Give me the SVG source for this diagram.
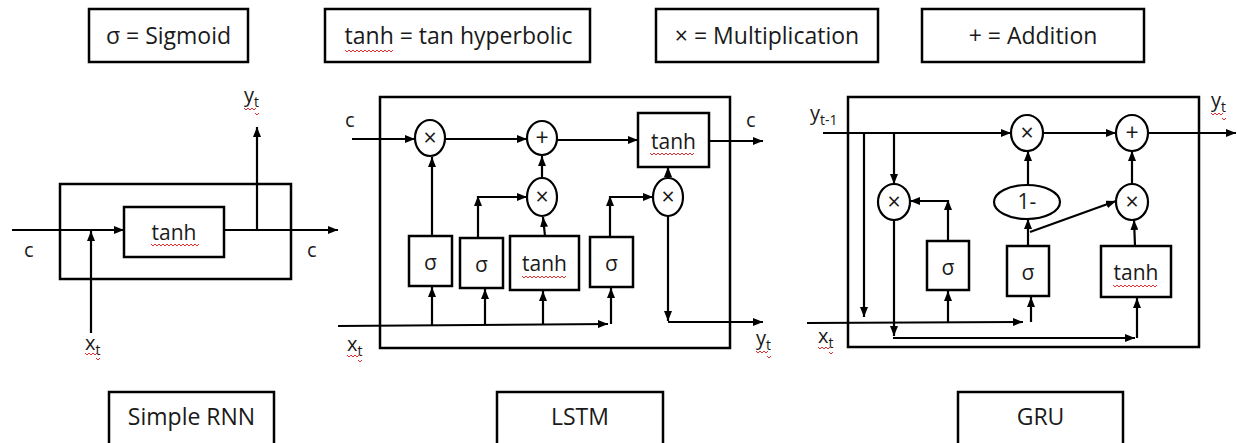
<svg xmlns="http://www.w3.org/2000/svg" width="1237" height="443" viewBox="0 0 1237 443">
<defs>
<marker id="ah" viewBox="0 0 10 8" refX="10" refY="4" markerWidth="10" markerHeight="8" markerUnits="userSpaceOnUse" orient="auto">
<path d="M0,0 L10,4 L0,8 z" fill="#000"/>
</marker>
</defs>
<style>
.box{fill:#fff;stroke:#000;stroke-width:2.5}
.op{fill:#fff;stroke:#000;stroke-width:2.2}
.ln{fill:none;stroke:#000;stroke-width:2.2;marker-end:url(#ah)}
.t{font-family:"Open Sans","Liberation Sans",sans-serif;fill:#1a1a1a}
.lg{font-size:23px;text-anchor:middle}
.nd{font-size:21px;text-anchor:middle}
.sym{font-size:23px;text-anchor:middle}
.lb{font-size:20px}
.sub{font-size:14px}
.sq{fill:none;stroke:#e03030;stroke-width:1}
</style>
<rect width="1237" height="443" fill="#fff"/>

<g id="legend-sigmoid"><rect class="box" x="89" y="9" width="159" height="53"/><text class="t lg" x="168.5" y="44">σ = Sigmoid</text></g>
<g id="legend-tanh"><rect class="box" x="325" y="9" width="265" height="53"/><text class="t lg" x="458.5" y="44">tanh = tan hyperbolic</text><path class="sq" d="M345,50 l2,2 l2,-2 l2,2 l2,-2 l2,2 l2,-2 l2,2 l2,-2 l2,2 l2,-2 l2,2 l2,-2 l2,2 l2,-2 l2,2 l2,-2 l2,2 l2,-2 l2,2 l2,-2 l2,2 l2,-2 l2,2 l2,-2"/></g>
<g id="legend-mult"><rect class="box" x="656" y="9" width="222" height="53"/><text class="t lg" x="767" y="44">× = Multiplication</text></g>
<g id="legend-add"><rect class="box" x="922" y="9" width="222" height="53"/><text class="t lg" x="1033" y="44">+ = Addition</text></g>

<g id="title-rnn"><rect class="box" x="109" y="392" width="165" height="60"/><text class="t lg" x="191.5" y="425">Simple RNN</text></g>
<g id="title-lstm"><rect class="box" x="497" y="392" width="166" height="60"/><text class="t lg" x="580" y="425">LSTM</text></g>
<g id="title-gru"><rect class="box" x="958" y="392" width="165" height="60"/><text class="t lg" x="1040.5" y="425">GRU</text></g>

<!-- Simple RNN -->
<g id="rnn-cell"><rect class="box" x="60" y="184" width="231" height="95"/></g>
<g id="rnn-tanh"><rect class="box" x="124" y="207" width="100" height="50"/><text class="t nd" x="174" y="240">tanh</text><path class="sq" d="M151,244 l2,2 l2,-2 l2,2 l2,-2 l2,2 l2,-2 l2,2 l2,-2 l2,2 l2,-2 l2,2 l2,-2 l2,2 l2,-2 l2,2 l2,-2 l2,2 l2,-2 l2,2 l2,-2 l2,2 l2,-2 l2,2 l2,-2"/></g>
<g id="rnn-labels">
<text class="t lb" x="24" y="257">c</text>
<text class="t lb" x="307" y="257">c</text>
<text class="t lb" x="244" y="102">y<tspan class="sub" dy="5">t</tspan></text>
<path class="sq" d="M244,108 l2,2 l2,-2 l2,2 l2,-2 l2,2 l2,-2 M255,113 l2,2 l2,-2"/>
<text class="t lb" x="85" y="350">x<tspan class="sub" dy="5">t</tspan></text>
<path class="sq" d="M85,353 l2,2 l2,-2 l2,2 l2,-2 l2,2 l2,-2 M96,358 l2,2 l2,-2"/>
</g>

<!-- LSTM -->
<g id="lstm-cell"><rect class="box" x="380" y="97" width="350" height="251"/></g>
<g id="lstm-mul1"><ellipse class="op" cx="430" cy="138" rx="15" ry="18"/><text class="t sym" x="430" y="146">×</text></g>
<g id="lstm-add"><ellipse class="op" cx="542" cy="138" rx="15" ry="17"/><text class="t sym" x="542" y="146">+</text></g>
<g id="lstm-tanh-out"><rect class="box" x="638" y="113" width="71" height="54"/><text class="t nd" x="673.5" y="149">tanh</text><path class="sq" d="M650,153 l2,2 l2,-2 l2,2 l2,-2 l2,2 l2,-2 l2,2 l2,-2 l2,2 l2,-2 l2,2 l2,-2 l2,2 l2,-2 l2,2 l2,-2 l2,2 l2,-2 l2,2 l2,-2 l2,2 l2,-2"/></g>
<g id="lstm-mul2"><ellipse class="op" cx="542" cy="197" rx="15" ry="19"/><text class="t sym" x="542" y="205">×</text></g>
<g id="lstm-mul3"><ellipse class="op" cx="668" cy="197" rx="15" ry="19"/><text class="t sym" x="668" y="205">×</text></g>
<g id="lstm-sig1"><rect class="box" x="409" y="236" width="43" height="50"/><text class="t nd" x="430.5" y="270">σ</text></g>
<g id="lstm-sig2"><rect class="box" x="460" y="238" width="43" height="50"/><text class="t nd" x="481.5" y="272">σ</text></g>
<g id="lstm-tanh-mid"><rect class="box" x="510" y="236" width="69" height="54"/><text class="t nd" x="544.5" y="271">tanh</text><path class="sq" d="M522,276 l2,2 l2,-2 l2,2 l2,-2 l2,2 l2,-2 l2,2 l2,-2 l2,2 l2,-2 l2,2 l2,-2 l2,2 l2,-2 l2,2 l2,-2 l2,2 l2,-2 l2,2 l2,-2 l2,2 l2,-2"/></g>
<g id="lstm-sig3"><rect class="box" x="590" y="237" width="43" height="50"/><text class="t nd" x="611.5" y="271">σ</text></g>
<g id="lstm-labels">
<text class="t lb" x="345" y="127">c</text>
<text class="t lb" x="746" y="127">c</text>
<text class="t lb" x="347" y="351">x<tspan class="sub" dy="5">t</tspan></text>
<path class="sq" d="M347,355 l2,2 l2,-2 l2,2 l2,-2 l2,2 l2,-2 M358,360 l2,2 l2,-2"/>
<text class="t lb" x="756" y="345">y<tspan class="sub" dy="5">t</tspan></text>
<path class="sq" d="M756,351 l2,2 l2,-2 l2,2 l2,-2 l2,2 l2,-2 M767,356 l2,2 l2,-2"/>
</g>

<!-- GRU -->
<g id="gru-cell"><rect class="box" x="848" y="97" width="351" height="250"/></g>
<g id="gru-mulA"><ellipse class="op" cx="1027" cy="133" rx="16" ry="18"/><text class="t sym" x="1027" y="141">×</text></g>
<g id="gru-add"><ellipse class="op" cx="1132" cy="133" rx="16" ry="18"/><text class="t sym" x="1132" y="141">+</text></g>
<g id="gru-mulB"><ellipse class="op" cx="894" cy="202" rx="16" ry="18"/><text class="t sym" x="894" y="210">×</text></g>
<g id="gru-one-minus"><ellipse class="op" cx="1027" cy="202" rx="33" ry="17"/><text class="t nd" x="1027" y="209">1-</text></g>
<g id="gru-mulD"><ellipse class="op" cx="1132" cy="202" rx="16" ry="18"/><text class="t sym" x="1132" y="210">×</text></g>
<g id="gru-sigB"><rect class="box" x="927" y="241" width="42" height="49"/><text class="t nd" x="948" y="275">σ</text></g>
<g id="gru-sigC"><rect class="box" x="1007" y="246" width="42" height="50"/><text class="t nd" x="1028" y="280">σ</text></g>
<g id="gru-tanh"><rect class="box" x="1101" y="246" width="70" height="51"/><text class="t nd" x="1136" y="280">tanh</text><path class="sq" d="M1113,285 l2,2 l2,-2 l2,2 l2,-2 l2,2 l2,-2 l2,2 l2,-2 l2,2 l2,-2 l2,2 l2,-2 l2,2 l2,-2 l2,2 l2,-2 l2,2 l2,-2 l2,2 l2,-2 l2,2 l2,-2"/></g>
<g id="gru-labels">
<text class="t lb" x="810" y="120">y<tspan class="sub" dy="5">t-1</tspan></text>
<text class="t lb" x="1211" y="107">y<tspan class="sub" dy="5">t</tspan></text>
<path class="sq" d="M1211,113 l2,2 l2,-2 l2,2 l2,-2 l2,2 l2,-2 M1222,118 l2,2 l2,-2"/>
<text class="t lb" x="818" y="343">x<tspan class="sub" dy="5">t</tspan></text>
<path class="sq" d="M818,347 l2,2 l2,-2 l2,2 l2,-2 l2,2 l2,-2 M829,352 l2,2 l2,-2"/>
</g>

<g id="connectors">
<!-- RNN -->
<path class="ln" d="M12,230 L124,230"/>
<path class="ln" d="M91,333 L91,231"/>
<path class="ln" d="M224,230 L338,230"/>
<path class="ln" d="M257,230 L257,127"/>
<!-- LSTM -->
<path class="ln" d="M352,139 L415,139"/>
<path class="ln" d="M445,139 L527,139"/>
<path class="ln" d="M557,140 L638,140"/>
<path class="ln" d="M709,141 L763,141"/>
<path class="ln" d="M542,178 L542,156"/>
<path class="ln" d="M432,236 L432,157"/>
<path class="ln" d="M478,238 L478,196"/>
<path class="ln" d="M478,197 L527,197"/>
<path class="ln" d="M545,236 L543,217"/>
<path class="ln" d="M610,237 L610,196"/>
<path class="ln" d="M610,197 L653,197"/>
<path class="ln" d="M668,178 L668,167"/>
<path class="ln" d="M668,216 L668,321"/>
<path class="ln" d="M668,322 L763,322"/>
<path class="ln" d="M338,326 L608,324"/>
<path class="ln" d="M432,325 L432,287"/>
<path class="ln" d="M485,325 L485,289"/>
<path class="ln" d="M543,325 L543,291"/>
<path class="ln" d="M611,324 L611,288"/>
<!-- GRU -->
<path class="ln" d="M823,133 L1011,133"/>
<path class="ln" d="M1043,133 L1116,133"/>
<path class="ln" d="M1148,133 L1236,133"/>
<path class="ln" d="M864,133 L864,317"/>
<path class="ln" d="M894,133 L894,184"/>
<path class="ln" d="M894,220 L894,336"/>
<path class="ln" d="M893,338 L1135,338"/>
<path class="ln" d="M1137,338 L1137,298"/>
<path class="ln" d="M948,241 L948,200"/>
<path class="ln" d="M948,201 L910,201"/>
<path class="ln" d="M1028,246 L1028,219"/>
<path class="ln" d="M1028,185 L1028,151"/>
<path class="ln" d="M1030,232 L1116,201"/>
<path class="ln" d="M1132,184 L1132,151"/>
<path class="ln" d="M1135,246 L1134,220"/>
<path class="ln" d="M807,323 L1023,322"/>
<path class="ln" d="M1031,322 L1031,297"/>
<path class="ln" d="M948,322 L948,291"/>
</g>
</svg>
